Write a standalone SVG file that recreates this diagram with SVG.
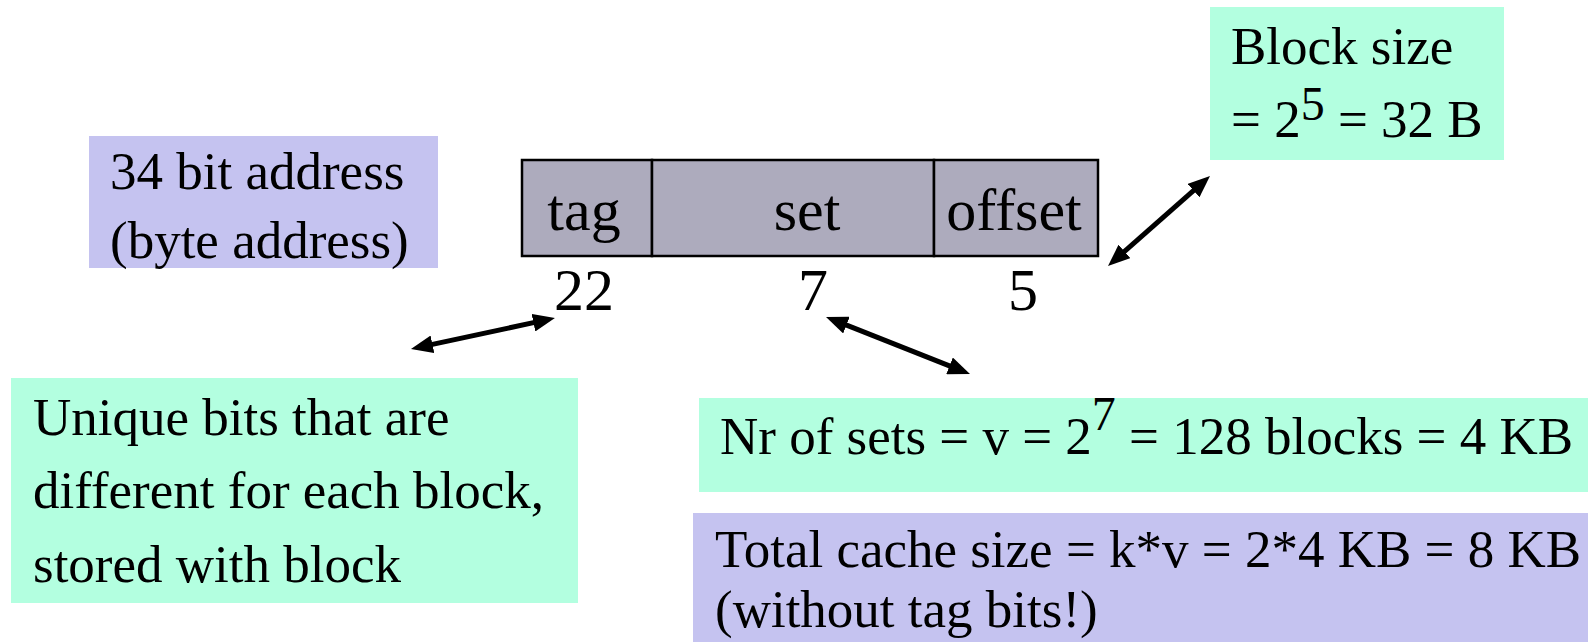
<svg xmlns="http://www.w3.org/2000/svg" width="1588" height="642" viewBox="0 0 1588 642">
  <style>
    text { font-family: "Liberation Serif", "Times New Roman", serif; fill: #000; }
    .lbl { font-size: 53px; }
    .fld { font-size: 60px; text-anchor: middle; }
    .mint { fill: #B3FFE0; }
    .lav { fill: #C5C3F0; }
    .cell { fill: #ADABBD; stroke: #000; stroke-width: 2.5; }
    .conn { stroke: #000; stroke-width: 5; fill: none; marker-start: url(#head); marker-end: url(#head); }
  </style>
  <defs>
    <marker id="head" viewBox="0 0 22 18" refX="6" refY="9" markerWidth="22" markerHeight="18" markerUnits="userSpaceOnUse" orient="auto-start-reverse">
      <path d="M0,0 L22,9 L0,18 Z" fill="#000"/>
    </marker>
  </defs>

  <rect width="1588" height="642" fill="#fff"/>

  <!-- address layout: tag | set | offset -->
  <g id="address">
    <rect class="cell" x="522" y="160" width="130" height="96"/>
    <rect class="cell" x="652" y="160" width="282" height="96"/>
    <rect class="cell" x="934" y="160" width="164" height="96"/>
    <text class="fld" x="584" y="230">tag</text>
    <text class="fld" x="807" y="230">set</text>
    <text class="fld" x="1014" y="230">offset</text>
  </g>

  <g id="widths">
    <text class="fld" x="584" y="310">22</text>
    <text class="fld" x="813" y="310">7</text>
    <text class="fld" x="1023" y="310">5</text>
  </g>

  <g id="addr-note">
    <rect class="lav" x="89" y="136" width="349" height="132"/>
    <text class="lbl" x="110" y="189">34 bit address</text>
    <text class="lbl" x="110" y="258">(byte address)</text>
  </g>

  <g id="block-size">
    <rect class="mint" x="1210" y="7" width="294" height="153"/>
    <text class="lbl" x="1231" y="64">Block size</text>
    <text class="lbl" x="1231" y="137">= 2<tspan font-size="48" dy="-17">5</tspan><tspan dy="17"> = 32 B</tspan></text>
  </g>

  <g id="tag-note">
    <rect class="mint" x="11" y="378" width="567" height="225"/>
    <text class="lbl" x="33" y="435">Unique bits that are</text>
    <text class="lbl" x="33" y="508">different for each block,</text>
    <text class="lbl" x="33" y="582">stored with block</text>
  </g>

  <g id="sets-note">
    <rect class="mint" x="699" y="398" width="889" height="94"/>
    <text class="lbl" x="720" y="454">Nr of sets = v = 2<tspan font-size="48" dy="-24">7</tspan><tspan dy="24"> = 128 blocks = 4 KB</tspan></text>
  </g>

  <g id="total-note">
    <rect class="lav" x="693" y="513" width="895" height="129"/>
    <text class="lbl" x="715" y="567">Total cache size = k*v = 2*4 KB = 8 KB</text>
    <text class="lbl" x="715" y="627">(without tag bits!)</text>
  </g>

  <!-- double-headed connectors -->
  <g id="connectors">
    <path class="conn" d="M426.6,345.6 L539.3,321.4"/>
    <path class="conn" d="M840.9,322.9 L955.1,368.1"/>
    <path class="conn" d="M1120,255.4 L1198,186.6"/>
  </g>
</svg>
